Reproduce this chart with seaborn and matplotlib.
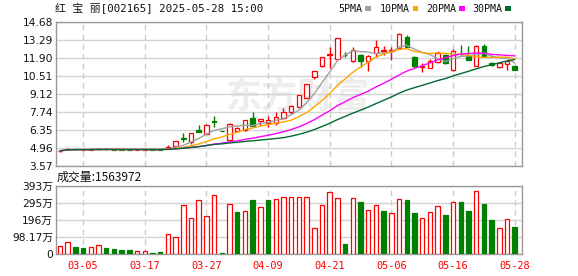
import numpy as np
import pandas as pd
import matplotlib
matplotlib.use("Agg")
import matplotlib.pyplot as plt
import seaborn as sns

# ---------------- data ----------------
dates = ["02-28", "03-03", "03-04", "03-05", "03-06", "03-07", "03-10", "03-11", "03-12", "03-13",
         "03-14", "03-17", "03-18", "03-19", "03-20", "03-21", "03-24", "03-25", "03-26", "03-27",
         "03-28", "03-31", "04-01", "04-02", "04-03", "04-07", "04-08", "04-09", "04-10", "04-11",
         "04-14", "04-15", "04-16", "04-17", "04-18", "04-21", "04-22", "04-23", "04-24", "04-25",
         "04-28", "04-29", "04-30", "05-06", "05-07", "05-08", "05-09", "05-12", "05-13", "05-14",
         "05-15", "05-16", "05-19", "05-20", "05-21", "05-22", "05-23", "05-26", "05-27", "05-28"]

open_ = [4.72, 4.86, 4.88, 4.82, 4.83, 4.85, 4.88, 4.86, 4.84, 4.83,
         4.82, 4.83, 4.86, 4.84, 4.90, 5.14, 5.75, 5.44, 6.34, 6.04,
         7.04, 6.24, 5.60, 6.30, 6.34, 7.30, 7.02, 6.85, 6.85, 7.24,
         7.75, 8.14, 8.84, 10.43, 11.29, 12.10, 11.82, 12.14, 11.62, 12.12,
         11.65, 12.24, 12.44, 12.46, 12.68, 13.53, 11.97, 11.22, 11.14, 11.60,
         12.10, 10.94, 12.22, 12.12, 11.29, 12.78, 11.47, 11.22, 11.40, 11.27]
high = [4.78, 4.93, 4.90, 4.91, 4.87, 4.93, 4.90, 4.88, 4.86, 4.85,
        4.85, 4.87, 4.87, 4.86, 5.19, 5.52, 6.09, 6.12, 6.73, 6.78,
        7.42, 6.24, 6.86, 6.60, 7.13, 7.76, 7.20, 7.45, 7.75, 8.00,
        8.30, 9.01, 9.91, 10.90, 11.99, 12.76, 13.42, 12.33, 12.76, 12.20,
        12.12, 13.27, 12.84, 12.76, 13.80, 13.66, 12.05, 11.47, 11.80, 12.40,
        12.20, 12.55, 12.89, 12.83, 12.88, 12.96, 11.60, 11.55, 11.70, 11.30]
low = [4.68, 4.82, 4.84, 4.80, 4.81, 4.83, 4.84, 4.82, 4.81, 4.80,
       4.80, 4.81, 4.82, 4.81, 4.88, 5.12, 5.44, 5.24, 6.15, 6.00,
       6.60, 6.24, 5.60, 6.20, 6.30, 6.60, 6.75, 6.60, 6.72, 7.20,
       7.60, 8.10, 8.80, 10.30, 11.20, 11.14, 11.80, 11.95, 11.55, 11.22,
       10.90, 11.99, 12.12, 11.73, 12.60, 12.70, 11.15, 10.83, 11.10, 11.50,
       11.40, 10.85, 12.10, 11.70, 11.25, 12.00, 11.25, 11.15, 10.96, 10.95]
close = [4.74, 4.89, 4.86, 4.84, 4.85, 4.87, 4.86, 4.84, 4.83, 4.82,
         4.83, 4.85, 4.84, 4.83, 5.04, 5.50, 5.62, 6.09, 6.19, 6.73,
         6.93, 6.24, 6.84, 6.48, 7.13, 6.68, 7.16, 7.12, 7.37, 7.71,
         8.19, 9.01, 9.91, 10.90, 11.99, 12.20, 13.42, 12.08, 12.50, 11.65,
         12.07, 12.76, 12.50, 12.52, 13.77, 12.76, 11.25, 11.30, 11.65, 12.30,
         11.50, 12.45, 12.17, 11.75, 12.83, 12.05, 11.35, 11.47, 11.62, 10.99]
# volume in 万 (10k shares)
volume_wan = [45.8, 68.7, 42.0, 36.0, 40.0, 51.5, 36.0, 28.6, 24.8, 24.8,
              17.0, 17.0, 7.6, 13.0, 114.5, 97.0, 282.0, 206.0, 309.0, 217.0,
              338.0, 7.6, 286.0, 240.0, 246.0, 309.0, 269.0, 309.0, 315.0, 326.0,
              326.0, 326.0, 326.0, 149.0, 280.0, 355.0, 320.0, 59.0, 320.0, 300.0,
              252.0, 280.0, 248.0, 235.0, 315.0, 311.0, 236.5, 206.0, 240.0, 275.0,
              225.0, 298.0, 300.0, 248.0, 360.6, 288.0, 196.5, 149.0, 200.0, 156.3972]

ma_windows = [5, 10, 20, 30]
ma_labels = ["5PMA", "10PMA", "20PMA", "30PMA"]
price_ticks = [14.68, 13.29, 11.90, 10.51, 9.12, 7.74, 6.35, 4.96, 3.57]
vol_ticks = [0, 98.17, 196.34, 294.51, 392.68]
vol_tick_labels = ["0", "98.17万", "196万", "295万", "393万"]
title_text = "红 宝 丽[002165] 2025-05-28 15:00"
volume_text = "成交量:1563972"
watermark = "东方财富"

# ---------------- styling ----------------
RED = "#ff0000"
GREEN = "#008000"
MA_COLORS = ["#a0a0a0", "#ffa500", "#ff00ff", "#006a30"]
GRID = "#d3d3d3"
SPINE = "#999999"
W, H = 578, 276

sns.set_theme(style="white")
plt.rcParams['font.family'] = ['DejaVu Sans', 'Noto Sans CJK SC']

fig = plt.figure(figsize=(W / 100, H / 100), dpi=100)
fig.patch.set_facecolor("white")
ax = fig.add_axes([56 / W, 1 - 166 / H, 466 / W, 144.3 / H])
axv = fig.add_axes([56 / W, 1 - 254.3 / H, 466 / W, 68.6 / H])

df = pd.DataFrame({"date": dates, "open": open_, "high": high, "low": low,
                   "close": close, "vol": volume_wan})
df["x"] = np.arange(len(df))
o = df["open"].to_numpy()
c = df["close"].to_numpy()
prev_c = np.r_[c[0], c[:-1]]
up = (c > o) | ((c == o) & (c >= prev_c))
cand_col = np.where(up, RED, GREEN)
cand_face = np.where(up, "white", GREEN)

# watermark
ax.text(0.52, 0.48, watermark, transform=ax.transAxes, ha="center", va="center",
        fontsize=26, color="#ededed", family=["Noto Sans CJK SC"], zorder=0, fontweight="bold")

# wicks and bodies
ax.vlines(df["x"], df["low"], df["high"], colors=cand_col, linewidth=1, zorder=3)
body_bottom = np.minimum(o, c)
body_h = np.maximum(np.abs(c - o), 0.015)
ax.bar(df["x"], body_h, bottom=body_bottom, width=0.58, color=cand_face,
       edgecolor=cand_col, linewidth=0.9, zorder=4)

# moving averages via seaborn
for w, col in zip(ma_windows, MA_COLORS):
    ma = df["close"].rolling(w, min_periods=1).mean()
    sns.lineplot(x=df["x"], y=ma, ax=ax, color=col, linewidth=1, zorder=5, legend=False)

# volume
vol_up = np.r_[True, c[1:] >= c[:-1]]
axv.bar(df["x"], df["vol"], width=0.58, color=np.where(vol_up, "white", GREEN),
        edgecolor=np.where(vol_up, RED, GREEN), linewidth=0.9, zorder=3)

tick_idx = df["x"].to_numpy()[3::8]
tick_lab = [dates[i] for i in tick_idx]

for a in (ax, axv):
    a.set_xlim(-0.52, 59.95)
    a.set_xlabel("")
    a.set_ylabel("")
    a.set_xticks(tick_idx)
    a.grid(axis="y", color=GRID, linewidth=1, linestyle="-", zorder=0)
    a.grid(axis="x", color="#cccccc", linewidth=1, linestyle=(0, (4, 3)), zorder=0)
    a.set_axisbelow(True)
    for s in a.spines.values():
        s.set_color(SPINE)
        s.set_linewidth(1)
        s.set_visible(True)
    a.tick_params(length=0)

ax.set_ylim(3.57, 14.68)
ax.set_yticks(price_ticks)
ax.set_yticklabels([f"{v:.2f}" for v in price_ticks], fontsize=7.7, color="#111111")
ax.set_xticklabels([])
ax.tick_params(axis="y", pad=2)

axv.set_ylim(0, 392.68)
axv.set_yticks(vol_ticks)
axv.set_yticklabels(vol_tick_labels, fontsize=7.7, color="#111111")
axv.set_xticklabels(tick_lab, fontsize=7.4, color=RED, family=["DejaVu Sans Mono"])
axv.tick_params(axis="y", pad=2)
axv.tick_params(axis="x", pad=5)

# header texts
fig.text(55 / W, 1 - 8.5 / H, title_text, ha="left", va="center", fontsize=7.8,
         family=["DejaVu Sans Mono", "Noto Sans CJK SC"], color="#111111")
leg_x = [338, 380, 426, 472]
sq_x = [365, 412.7, 459.3, 505.3]
for lab, lx, sx, col in zip(ma_labels, leg_x, sq_x, MA_COLORS):
    fig.text(lx / W, 1 - 8.5 / H, lab, ha="left", va="center", fontsize=7.2,
             family=["DejaVu Sans Mono"], color="#111111")
    fig.patches.append(matplotlib.patches.Rectangle((sx / W, 1 - 10.7 / H), 5.5 / W, 4.2 / H,
                       transform=fig.transFigure, facecolor=col, edgecolor="none"))
fig.text(57 / W, 1 - 177.5 / H, volume_text, ha="left", va="center", fontsize=8.6,
         family=["Noto Sans CJK SC", "DejaVu Sans"], color="#111111")

fig.savefig("out.png", dpi=100, facecolor="white")
